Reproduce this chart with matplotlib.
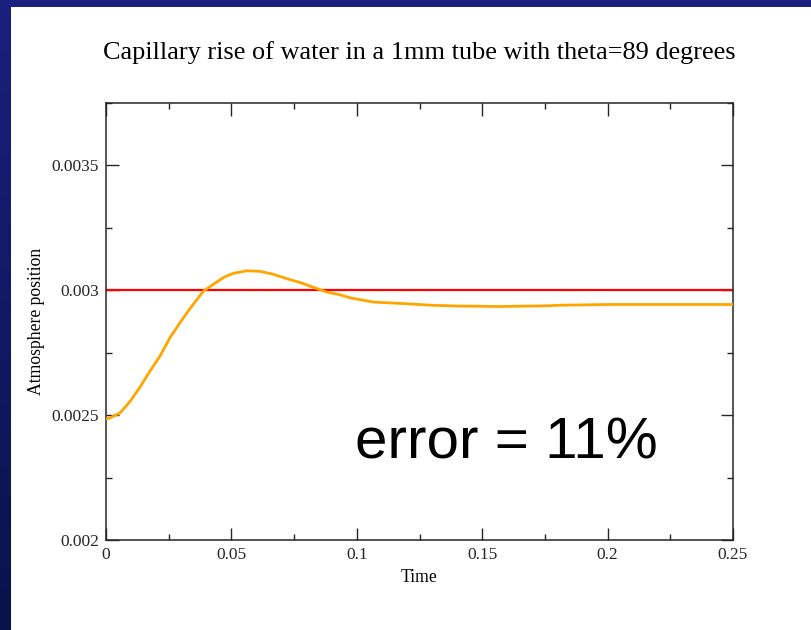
import numpy as np
import matplotlib
matplotlib.use('Agg')
import matplotlib.pyplot as plt
from matplotlib.ticker import MultipleLocator

# Readings
time = [0, 0.0016, 0.0056, 0.0096, 0.0136, 0.0175, 0.0215, 0.0255, 0.0295,
        0.0335, 0.0388, 0.0428, 0.0468, 0.0508, 0.0561, 0.0614, 0.0667,
        0.072, 0.0774, 0.0827, 0.088, 0.0933, 0.0973, 0.1065, 0.12, 0.13,
        0.14, 0.157, 0.177, 0.18, 0.2, 0.25]
position = [0.002485, 0.002489, 0.002509, 0.002555, 0.002613, 0.002676,
            0.002736, 0.00281, 0.00287, 0.002927, 0.002996, 0.003024,
            0.003051, 0.003068, 0.003078, 0.003076, 0.003064, 0.003047,
            0.003031, 0.003012, 0.002993, 0.002982, 0.00297, 0.002953,
            0.002946, 0.00294, 0.002937, 0.002935, 0.002938, 0.00294,
            0.002943, 0.002943]
target_time = [0, 0.25]
target_position = [0.003, 0.003]

SERIF = 'Liberation Serif'

fig = plt.figure(figsize=(8.12, 6.3), dpi=100)

# slide background: navy band on top and left edge
W, H = 812, 630
bg = np.ones((H, W, 3))
top_col = np.array([26, 32, 125]) / 255
bot_col = np.array([10, 18, 75]) / 255
shade = top_col + (bot_col - top_col) * np.linspace(0, 1, H)[:, None]
bg[:, :11, :] = shade[:, None, :]
bg[:7, :, :] = top_col
ax_bg = fig.add_axes([0, 0, 1, 1], zorder=-1)
ax_bg.imshow(bg, aspect='auto', interpolation='nearest')
ax_bg.axis('off')

ax = fig.add_axes([106 / W, 1 - 540 / H, 627 / W, 437 / H])
ax.plot(target_time, target_position, color='red', lw=1.6, zorder=2)
ax.plot(time, position, color='#ffa500', lw=2.0, zorder=3)

ax.set_xlim(0, 0.25)
ax.set_ylim(0.002, 0.00375)
ax.xaxis.set_major_locator(MultipleLocator(0.05))
ax.xaxis.set_minor_locator(MultipleLocator(0.025))
ax.yaxis.set_major_locator(MultipleLocator(0.0005))
ax.yaxis.set_minor_locator(MultipleLocator(0.00025))
ax.set_xticks([0, 0.05, 0.1, 0.15, 0.2, 0.25])
ax.set_xticklabels(['0', '0.05', '0.1', '0.15', '0.2', '0.25'])
ax.set_yticks([0.002, 0.0025, 0.003, 0.0035])
ax.set_yticklabels(['0.002', '0.0025', '0.003', '0.0035'])

ax.tick_params(which='both', direction='in', top=True, right=True,
               color='0.15', width=1)
ax.tick_params(which='major', length=9, labelsize=12.5, pad=5)
ax.tick_params(which='minor', length=4.5)
for lab in ax.get_xticklabels() + ax.get_yticklabels():
    lab.set_family(SERIF)
    lab.set_color('0.15')
for s in ax.spines.values():
    s.set_linewidth(1.1)
    s.set_color('0.15')

ax.set_xlabel('Time', family=SERIF, fontsize=12.7, labelpad=4)
ax.set_ylabel('Atmosphere position', family=SERIF, fontsize=12.7, labelpad=5)
ax.set_title('Capillary rise of water in a 1mm tube with theta=89 degrees',
             family=SERIF, fontsize=18.9, pad=32)

ax.text(0.0993, 0.002325, 'error = 11%', family='Liberation Sans',
        fontsize=42, va='baseline', ha='left')

fig.savefig('out.png', dpi=100)
